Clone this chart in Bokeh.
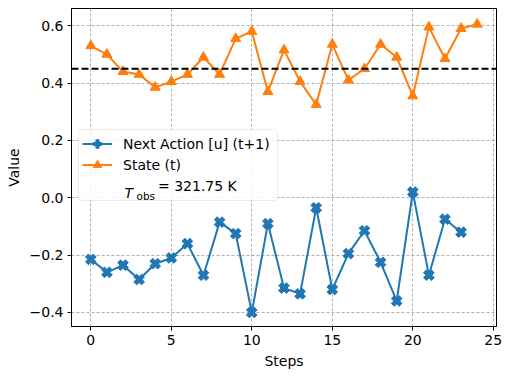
import numpy as np
from bokeh.plotting import figure
from bokeh.models import (Span, Legend, LegendItem, Label, Range1d, FixedTicker,
                          CustomJSTickFormatter, ColumnDataSource, BoxAnnotation)
from bokeh.embed import file_html
from bokeh.resources import INLINE

# ---- data ----
action_steps = list(range(24))
next_action = [-0.215, -0.26, -0.235, -0.285, -0.23, -0.21, -0.16, -0.27, -0.085, -0.125,
               -0.40, -0.09, -0.315, -0.335, -0.035, -0.32, -0.195, -0.115, -0.225, -0.36,
               0.02, -0.27, -0.075, -0.12]
state_steps = list(range(25))
state = [0.53, 0.50, 0.44, 0.43, 0.385, 0.405, 0.43, 0.49, 0.43, 0.555,
         0.58, 0.37, 0.515, 0.405, 0.325, 0.535, 0.41, 0.45, 0.535, 0.49,
         0.355, 0.595, 0.485, 0.59, 0.605]
t_obs_level = 0.45
t_obs_kelvin = "321.75"
x_ticks = [0, 5, 10, 15, 20, 25]
y_ticks = [-0.4, -0.2, 0.0, 0.2, 0.4, 0.6]

BLUE = "#1f77b4"
ORANGE = "#ff7f0e"
FONT = "DejaVu Sans"

p = figure(frame_width=425, frame_height=318, min_border_left=71, min_border_right=7,
           min_border_top=8, min_border_bottom=42, output_backend="svg",
           toolbar_location=None, x_range=Range1d(-1.2, 25.2), y_range=Range1d(-0.449, 0.66))
p.outline_line_color = "black"
p.outline_line_width = 1
p.background_fill_color = "white"
p.border_fill_color = "white"

for ax in (p.xaxis[0], p.yaxis[0]):
    ax.major_label_text_font = FONT
    ax.major_label_text_font_size = "14px"
    ax.major_label_text_color = "black"
    ax.axis_label_text_font = FONT
    ax.axis_label_text_font_size = "14px"
    ax.axis_label_text_font_style = "normal"
    ax.axis_label_text_color = "black"
    ax.axis_line_color = "black"
    ax.major_tick_line_color = "black"
    ax.major_tick_in = 0
    ax.major_tick_out = 4
    ax.major_label_standoff = 4
    ax.minor_tick_line_color = None
    ax.axis_label_standoff = 5
p.xaxis.axis_label = "Steps"
p.yaxis.axis_label = "Value"
p.xaxis.ticker = FixedTicker(ticks=x_ticks)
p.yaxis.ticker = FixedTicker(ticks=y_ticks)
p.yaxis.formatter = CustomJSTickFormatter(code="return tick.toFixed(1).replace('-', '\u2212');")

p.grid.grid_line_color = "#b0b0b0"
p.grid.grid_line_dash = "3 2"
p.grid.grid_line_width = 1

span = Span(location=t_obs_level, dimension="width", line_color="black",
            line_dash="7 3", line_width=2)
p.add_layout(span)

a_src = ColumnDataSource(dict(x=action_steps, y=next_action))
s_src = ColumnDataSource(dict(x=state_steps, y=state))

a_line = p.line("x", "y", source=a_src, line_color=BLUE, line_width=2)
a_mark = p.scatter("x", "y", source=a_src, marker="plus", angle=np.pi / 4, size=11,
                   fill_color=BLUE, line_color=BLUE)
s_line = p.line("x", "y", source=s_src, line_color=ORANGE, line_width=2)
s_mark = p.scatter("x", "y", source=s_src, marker="triangle", size=10,
                   fill_color=ORANGE, line_color=ORANGE)
dummy = p.line(x=[], y=[], line_color="black", line_dash="6 3", line_width=2)

# legend frame drawn separately so the subscripted label can sit on top of it
legend_box = BoxAnnotation(left=7, right=206, bottom=126, top=197,
                           left_units="screen", right_units="screen",
                           bottom_units="screen", top_units="screen",
                           fill_color="white", fill_alpha=0.85,
                           line_color="#bdbdbd", line_width=1, border_radius=3,
                           level="annotation", editable=False)
p.add_layout(legend_box, "center")

legend = Legend(items=[
    LegendItem(label="Next Action [u] (t+1)", renderers=[a_line, a_mark]),
    LegendItem(label="State (t)", renderers=[s_line, s_mark]),
    LegendItem(label="\u2003\u2003\u2002= " + t_obs_kelvin + " K", renderers=[dummy]),
], location=(7, 126))
legend.label_text_font = FONT
legend.label_text_font_size = "14px"
legend.label_text_color = "black"
legend.label_standoff = 11
legend.glyph_width = 30
legend.glyph_height = 21
legend.label_height = 15
legend.spacing = 0
legend.padding = 4
legend.margin = 0
legend.border_line_alpha = 0
legend.background_fill_alpha = 0
p.add_layout(legend, "center")

t_lab = Label(x=53, y=134, x_units="screen", y_units="screen", text="T",
              text_font=FONT, text_font_style="italic", text_font_size="14px",
              text_color="black", text_baseline="alphabetic", level="overlay")
obs_lab = Label(x=65, y=131, x_units="screen", y_units="screen", text="obs",
                text_font=FONT, text_font_size="10.5px", text_color="black",
                text_baseline="alphabetic", level="overlay")
p.add_layout(t_lab, "center")
p.add_layout(obs_lab, "center")

open("out.html", "w").write(file_html(p, INLINE))
